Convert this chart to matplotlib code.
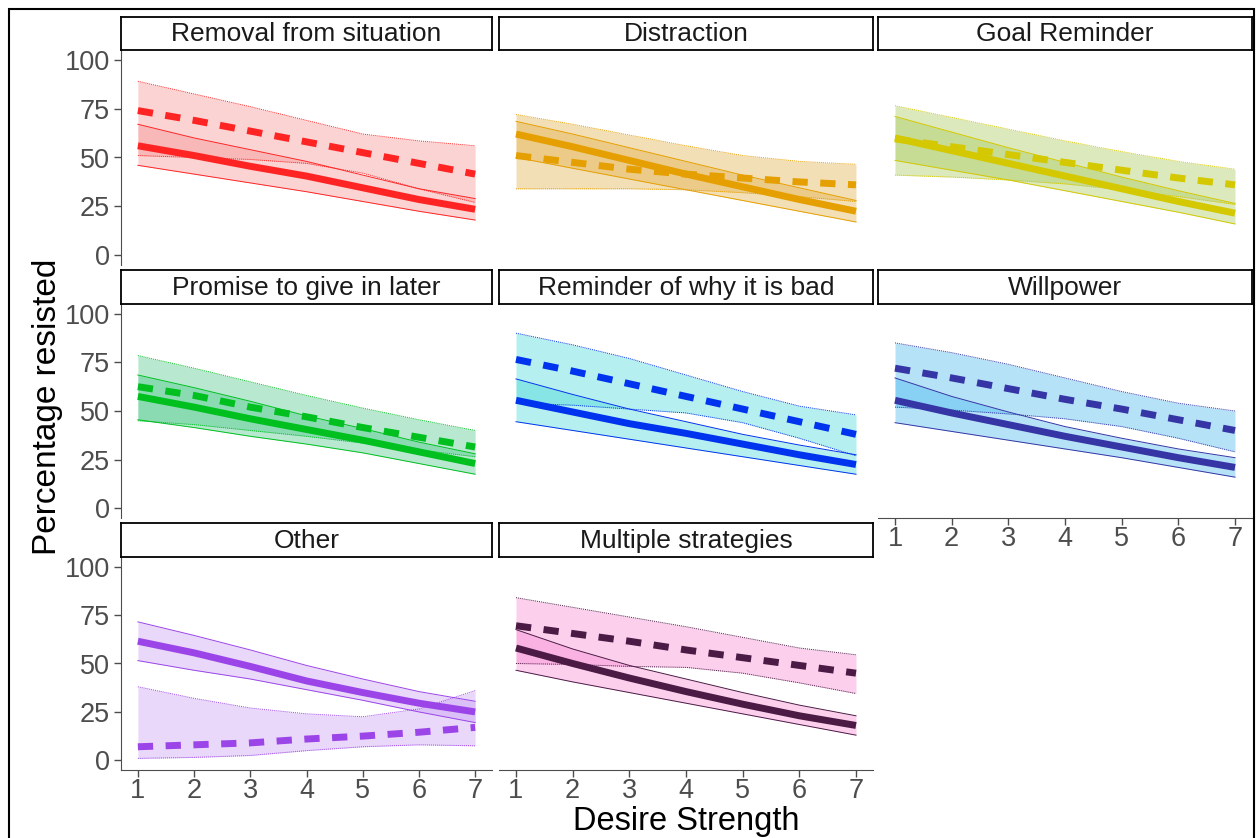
import matplotlib
matplotlib.use("Agg")
import matplotlib.pyplot as plt
from matplotlib.patches import Rectangle

plt.rcParams["font.family"] = ["Liberation Sans", "DejaVu Sans"]

# data (percentage resisted at desire strength 1..7)
desire = [1, 2, 3, 4, 5, 6, 7]
strategies = [
    "Removal from situation", "Distraction", "Goal Reminder",
    "Promise to give in later", "Reminder of why it is bad", "Willpower",
    "Other", "Multiple strategies",
]
solid_fit = [
    [56, 51, 45.5, 40.5, 34.5, 28.5, 23.5],
    [62, 55.5, 48.5, 41.5, 35, 28.5, 22.5],
    [60, 53.5, 47, 40.5, 34, 27.5, 21.5],
    [57.5, 52, 46, 40.5, 35, 29, 23],
    [55.5, 49.5, 43.5, 38.5, 33, 27.5, 22.5],
    [55.5, 49, 43, 37, 31.5, 26, 21],
    [61.5, 55.5, 48.5, 41, 35, 29.5, 25],
    [58, 50, 42.5, 35.5, 29, 23, 18],
]
solid_hi = [
    [67, 60, 54, 48, 41, 34, 29],
    [68.5, 62, 55, 48, 41, 34.5, 28],
    [71, 63, 55, 47.5, 40, 33, 26.5],
    [68.5, 62, 55, 47.5, 41, 34, 28],
    [66.5, 58.5, 51, 44.5, 38, 32.5, 27.5],
    [67, 57.5, 49.5, 42, 36, 30.5, 26],
    [71.5, 64.5, 57, 49, 42, 35.5, 30.5],
    [67.5, 57.5, 49, 42, 35, 28.5, 23],
]
solid_lo = [
    [46, 41.5, 37, 32.5, 27.5, 22.5, 18],
    [50, 44.5, 39, 33.5, 28, 22.5, 17],
    [48.5, 43.5, 38.5, 33, 27.5, 22, 16],
    [45.5, 41.5, 37, 33, 28.5, 23, 17.5],
    [44.5, 40, 35.5, 31, 26.5, 22, 17.5],
    [44, 39.5, 35, 30.5, 26, 21, 16],
    [51.5, 46.5, 42, 36.5, 31, 25, 19.5],
    [46.5, 40.5, 35, 29.5, 24, 18.5, 13],
]
dashed_fit = [
    [74, 69, 63.5, 58, 52.5, 47, 41.5],
    [51, 47.5, 44, 41.5, 39.5, 37.5, 36],
    [59.5, 55.5, 51.5, 47.5, 43.5, 39.5, 36],
    [62.5, 58, 52, 47, 41.5, 36.5, 31.5],
    [76.5, 70.5, 64, 57.5, 51, 44.5, 38],
    [72, 67, 61.5, 56, 51, 45.5, 40],
    [7, 8, 9, 11, 12.5, 14.5, 17],
    [69.5, 65.5, 61.5, 57, 53, 49, 45],
]
dashed_hi = [
    [89, 82.5, 76, 69, 62, 58.5, 56],
    [72, 67, 61.5, 56, 51, 48, 46.5],
    [76.5, 70.5, 64.5, 58.5, 53, 48, 44],
    [78.5, 72, 65, 58, 51.5, 45.5, 40],
    [90, 84, 77, 68.5, 60, 52.5, 48],
    [85, 80, 74, 67, 60, 54, 50],
    [38, 32, 27, 24, 22.5, 26.5, 36],
    [84, 79, 74, 69, 63.5, 58, 54.5],
]
dashed_lo = [
    [51, 50, 49, 47, 42, 34, 27],
    [34, 34, 34, 33.5, 32, 30, 27.5],
    [41, 40, 38.5, 36.5, 33.5, 30, 26],
    [45, 43, 40, 37, 33.5, 30, 26.5],
    [54, 53, 51, 49, 44, 36, 27],
    [52, 50.5, 48.5, 46, 42, 36, 29],
    [1, 1.5, 2.5, 5, 7, 8, 7.5],
    [50, 49.5, 48.5, 48, 45, 40, 34.5],
]
line_colors = ["#FF2424", "#E69F00", "#D4C800", "#00C020",
               "#0033EE", "#3535A5", "#9B45E8", "#4B1A45"]
fill_colors = ["#F58A8A", "#E1AA3A", "#A2C54E", "#3FC580",
               "#3AD4D4", "#3AB2EE", "#C596F2", "#F880D0"]

W, H = 1257, 838
fig = plt.figure(figsize=(W / 100, H / 100), dpi=100)


def frac(x0, y0, x1, y1):
    # pixel box (top-left origin) -> figure fraction
    return [x0 / W, 1 - y1 / H, (x1 - x0) / W, (y1 - y0) / H]


col_x = [(121, 492), (499, 873), (878, 1252)]
row_y = [(17, 50, 265), (270, 304, 518), (523, 557, 770)]
axis_grey = "#4D4D4D"

for i, name in enumerate(strategies):
    r, c = divmod(i, 3)
    x0, x1 = col_x[c]
    yt, ys, yb = row_y[r]

    ax = fig.add_axes(frac(x0, ys, x1, yb))
    lc, fc = line_colors[i], fill_colors[i]

    ax.fill_between(desire, dashed_lo[i], dashed_hi[i], color=fc, alpha=0.37, lw=0)
    ax.fill_between(desire, solid_lo[i], solid_hi[i], color=fc, alpha=0.37, lw=0)
    for band in (dashed_lo[i], dashed_hi[i]):
        ax.plot(desire, band, color=lc, lw=0.7, ls=(0, (1, 1)))
    for band in (solid_lo[i], solid_hi[i]):
        ax.plot(desire, band, color=lc, lw=0.7)
    ax.plot(desire, solid_fit[i], color=lc, lw=5, solid_capstyle="butt")
    ax.plot(desire, dashed_fit[i], color=lc, lw=5, ls=(0, (2.2, 1.8)),
            dash_capstyle="butt")

    ax.set_xlim(0.7, 7.3)
    ax.set_ylim(-5, 105)
    ax.set_xticks(desire)
    ax.set_yticks([0, 25, 50, 75, 100])
    for side in ("top", "right"):
        ax.spines[side].set_visible(False)
    ax.tick_params(colors=axis_grey, labelcolor=axis_grey, labelsize=19.5,
                   length=5, width=1, pad=3)
    ax.tick_params(axis="x", pad=1)

    if c == 0:
        ax.spines["left"].set_color(axis_grey)
    else:
        ax.spines["left"].set_visible(False)
        ax.tick_params(axis="y", left=False, labelleft=False)

    if i + 3 >= len(strategies):
        ax.spines["bottom"].set_color(axis_grey)
    else:
        ax.spines["bottom"].set_visible(False)
        ax.tick_params(axis="x", bottom=False, labelbottom=False)

    strip = fig.add_axes(frac(x0, yt, x1, ys))
    strip.set_xticks([])
    strip.set_yticks([])
    for sp in strip.spines.values():
        sp.set_linewidth(1.3)
    strip.text(0.5, 0.47, name, ha="center", va="center", fontsize=19,
               color="#1A1A1A", transform=strip.transAxes)

fig.text(686 / W, 1 - 830 / H, "Desire Strength", ha="center",
         va="baseline", fontsize=23.5)
fig.text(48 / W, 1 - 407 / H, "Percentage resisted", ha="center",
         va="center", rotation=90, fontsize=24)

fig.add_artist(Rectangle((9 / W, -0.02), (1254 - 9) / W, 1.02 - 9 / H,
                         transform=fig.transFigure, fill=False, lw=1.5,
                         edgecolor="black"))

fig.savefig("out.png", dpi=100)
